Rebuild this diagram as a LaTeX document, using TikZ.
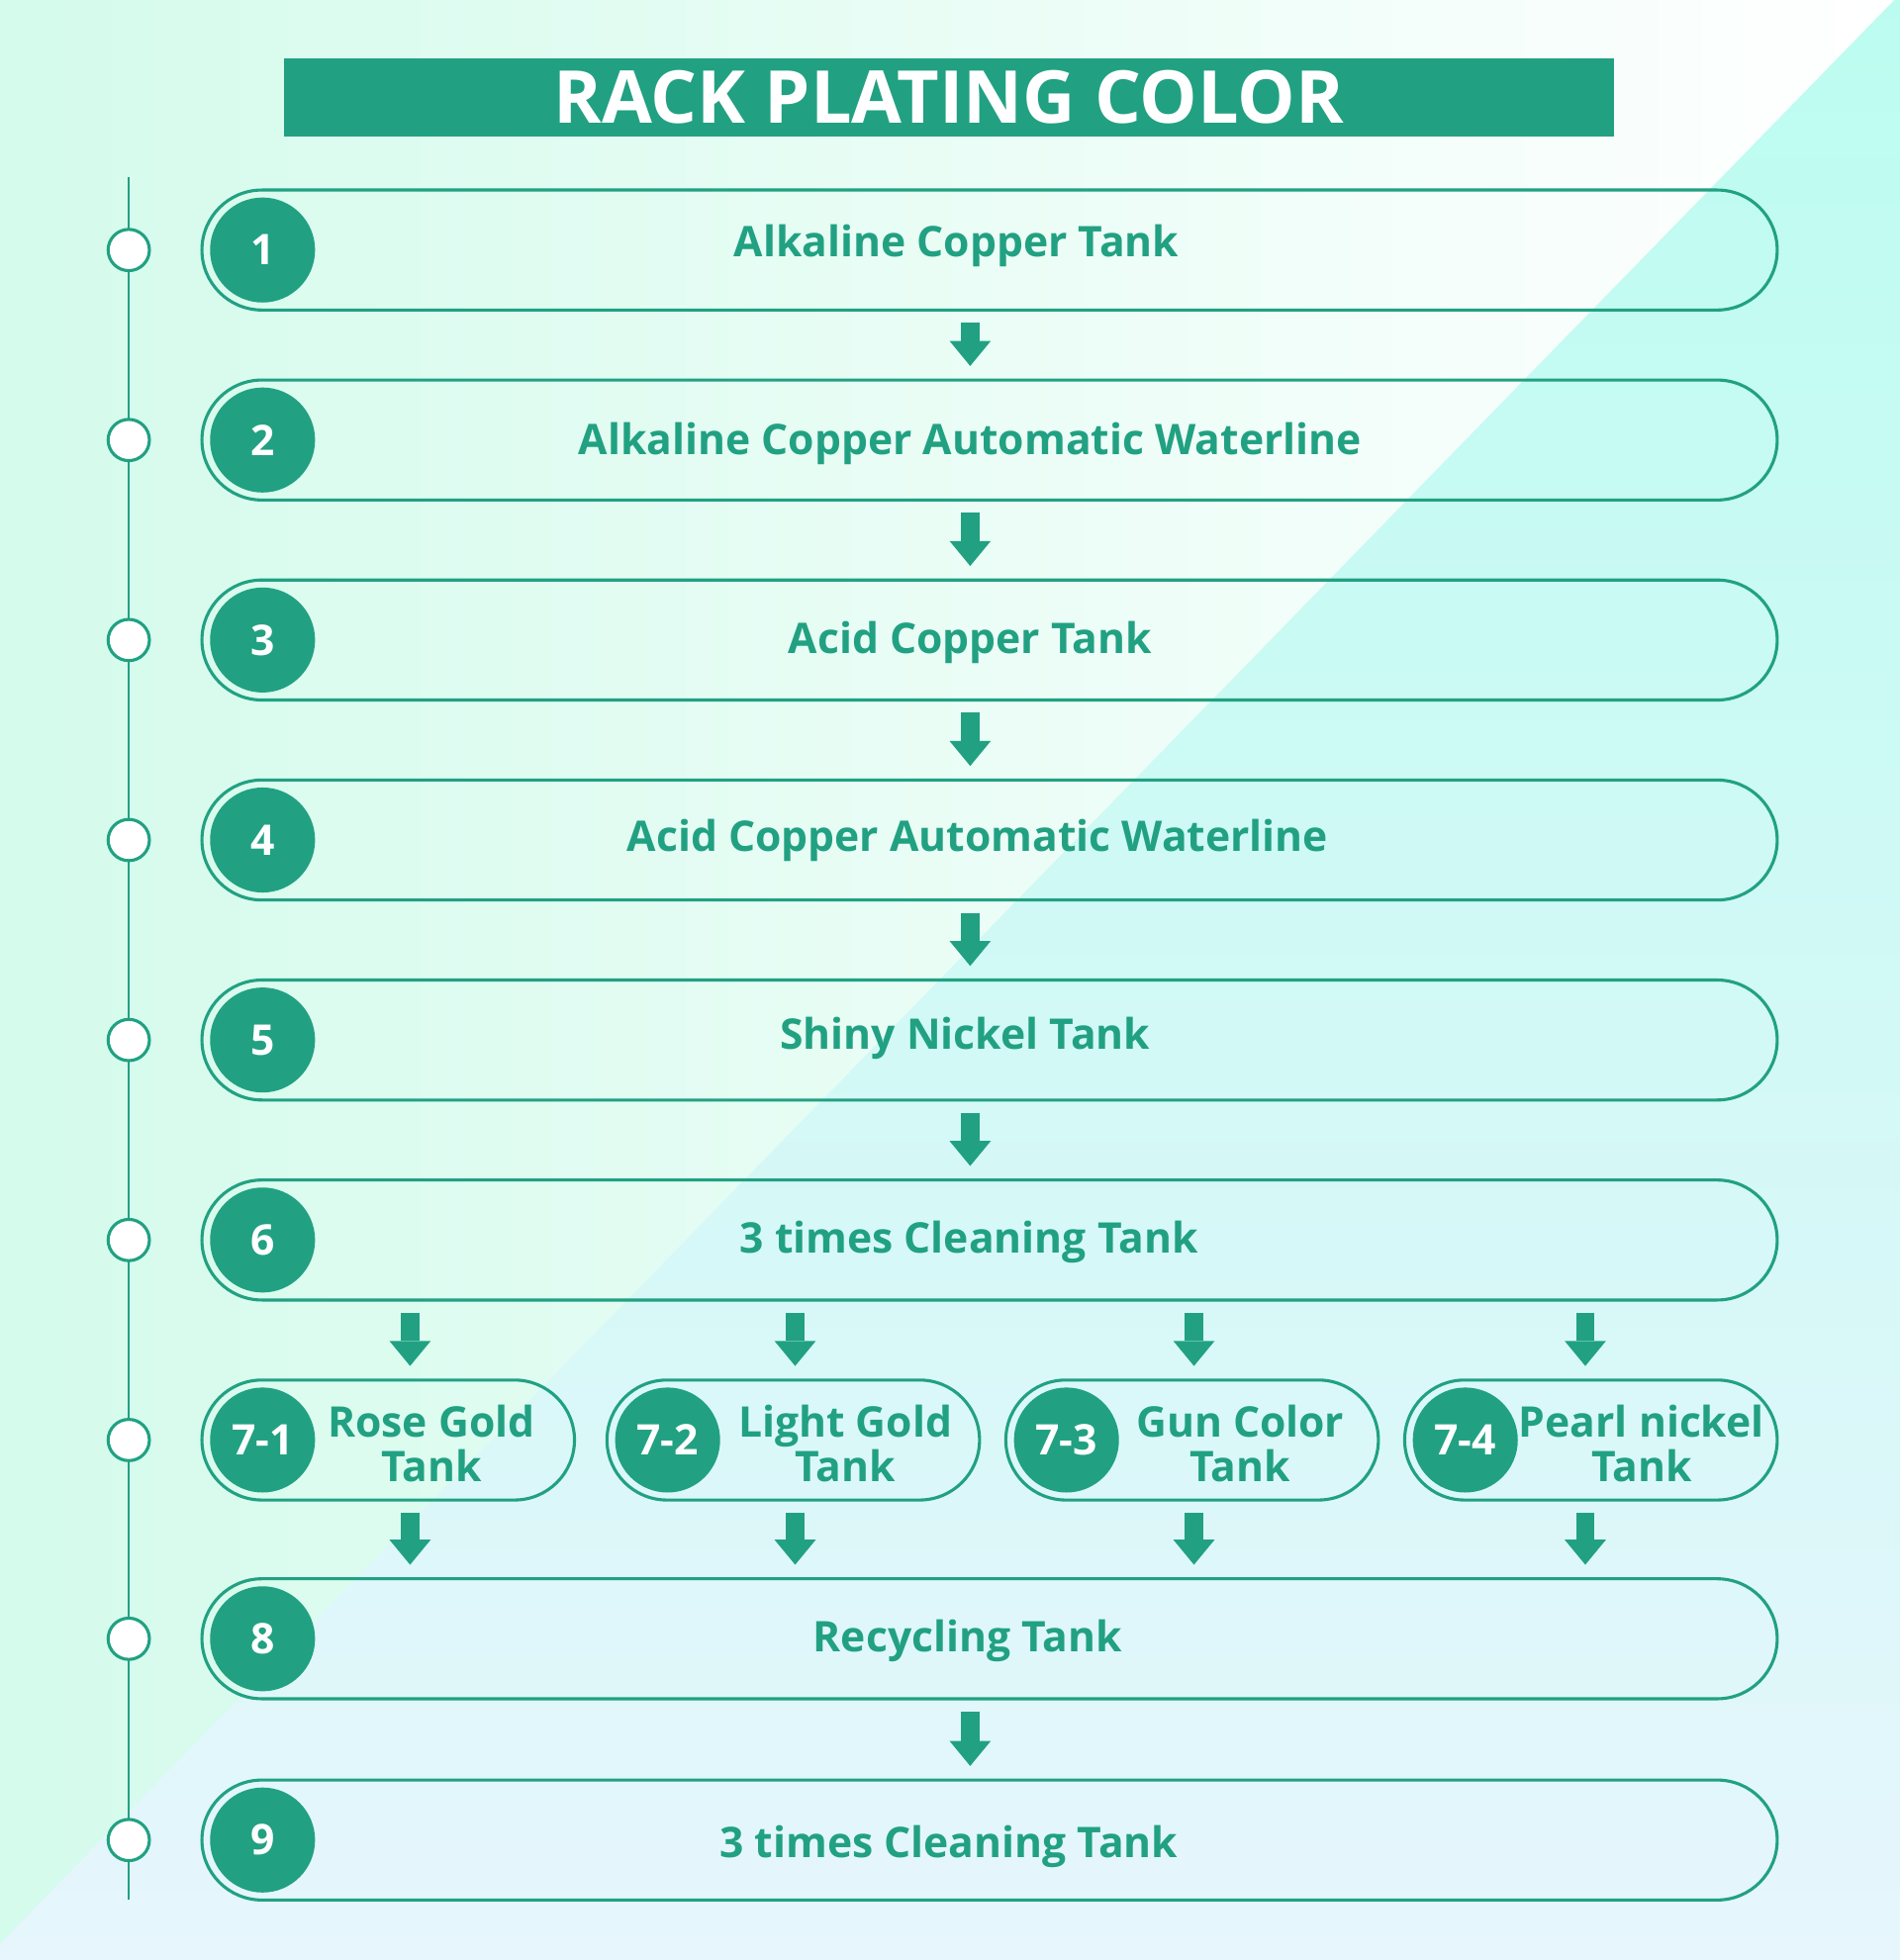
\documentclass[tikz,border=0pt]{standalone}
\usepackage{fontspec}
\setmainfont{Open Sans}
\usetikzlibrary{shapes.misc,arrows.meta}
\definecolor{plategreen}{HTML}{21A182}
\definecolor{mintbg}{HTML}{D4FBEC}
\definecolor{cyantop}{HTML}{BCFCF0}
\definecolor{cyanbot}{HTML}{E6F6FC}
\tikzset{
  tank/.style={rounded rectangle,draw=plategreen,line width=0.7pt,minimum height=9.6mm,inner sep=0pt},
  bigtank/.style={tank,minimum width=126mm},
  smalltank/.style={tank,minimum width=29.8mm},
  badge/.style={circle,fill=plategreen,minimum size=8.4mm,inner sep=0pt,text=white,font=\bfseries\fontsize{9.6}{10}\selectfont},
  tanklabel/.style={text=plategreen,align=center,font=\bfseries\fontsize{9.6}{10.2}\selectfont},
  railstop/.style={circle,draw=plategreen,fill=white,line width=0.7pt,minimum size=3.3mm,inner sep=0pt},
  flow/.style={draw=plategreen,line width=1.5mm,shorten <=0.9mm,shorten >=1mm,-{Triangle[width=3.3mm,length=2mm,line width=0pt,fill=plategreen]}},
}

\begin{document}
\begin{tikzpicture}[x=0.1mm,y=-0.1mm]
      \useasboundingbox (0,0) rectangle (1520,1568);
      \shade[left color=mintbg,right color=white] (0,0) rectangle (1520,1568);
      \shade[top color=cyantop,bottom color=cyanbot] (1520,-5) -- (1520,1568) -- (0,1568) -- (0,1555) -- cycle;

      \node[fill=plategreen,minimum width=106.4mm,minimum height=6.2mm,inner sep=0pt,text=white,
            font=\bfseries\fontsize{16.6}{18}\selectfont] (title) at (759,78) {RACK PLATING COLOR};

      % time line on the left
      \coordinate (railtop) at (103,142);
      \coordinate (railbot) at (103,1520);
      \draw[plategreen,line width=0.55pt] (railtop) -- (railbot);
      \node[railstop] (d1) at (103,200) {};
      \node[railstop] (d2) at (103,352) {};
      \node[railstop] (d3) at (103,512) {};
      \node[railstop] (d4) at (103,672) {};
      \node[railstop] (d5) at (103,832) {};
      \node[railstop] (d6) at (103,992) {};
      \node[railstop] (d7) at (103,1152) {};
      \node[railstop] (d8) at (103,1311) {};
      \node[railstop] (d9) at (103,1472) {};

      \node[bigtank] (t1) at (791.5,200) {};
      \node[badge] (n1) at (210,200) {1};
      \node[tanklabel] (l1) at (765,197) {Alkaline Copper Tank};

      \node[bigtank] (t2) at (791.5,352) {};
      \node[badge] (n2) at (210,352) {2};
      \node[tanklabel] (l2) at (776,355) {Alkaline Copper Automatic Waterline};

      \node[bigtank] (t3) at (791.5,512) {};
      \node[badge] (n3) at (210,512) {3};
      \node[tanklabel] (l3) at (776,514) {Acid Copper Tank};

      \node[bigtank] (t4) at (791.5,672) {};
      \node[badge] (n4) at (210,672) {4};
      \node[tanklabel] (l4) at (782,672) {Acid Copper Automatic Waterline};

      \node[bigtank] (t5) at (791.5,832) {};
      \node[badge] (n5) at (210,832) {5};
      \node[tanklabel] (l5) at (772,831) {Shiny Nickel Tank};

      \node[bigtank] (t6) at (791.5,992) {};
      \node[badge] (n6) at (210,992) {6};
      \node[tanklabel] (l6) at (775,994) {3 times Cleaning Tank};

      \node[smalltank] (s1) at (310.5,1152) {};
      \node[badge] (m1) at (210,1152) {7-1};
      \node[tanklabel] (k1) at (345,1155) {Rose Gold\\Tank};

      \node[smalltank] (s2) at (634.5,1152) {};
      \node[badge] (m2) at (534,1152) {7-2};
      \node[tanklabel] (k2) at (676,1155) {Light Gold\\Tank};

      \node[smalltank] (s3) at (953.5,1152) {};
      \node[badge] (m3) at (853,1152) {7-3};
      \node[tanklabel] (k3) at (992,1155) {Gun Color\\Tank};

      \node[smalltank] (s4) at (1272.5,1152) {};
      \node[badge] (m4) at (1172,1152) {7-4};
      \node[tanklabel] (k4) at (1313,1155) {Pearl nickel\\Tank};

      \node[bigtank] (t8) at (791.5,1311) {};
      \node[badge] (n8) at (210,1311) {8};
      \node[tanklabel] (l8) at (774,1313) {Recycling Tank};

      \node[bigtank] (t9) at (791.5,1472) {};
      \node[badge] (n9) at (210,1472) {9};
      \node[tanklabel] (l9) at (759,1477) {3 times Cleaning Tank};

      \coordinate (mid) at (776,0);
      \coordinate (c1) at (328,0);
      \coordinate (c2) at (636,0);
      \coordinate (c3) at (955,0);
      \coordinate (c4) at (1268,0);

      \draw[flow] (t1.south -| mid) -- (t2.north -| mid);
      \draw[flow] (t2.south -| mid) -- (t3.north -| mid);
      \draw[flow] (t3.south -| mid) -- (t4.north -| mid);
      \draw[flow] (t4.south -| mid) -- (t5.north -| mid);
      \draw[flow] (t5.south -| mid) -- (t6.north -| mid);

      \draw[flow] (t6.south -| c1) -- (s1.north -| c1);
      \draw[flow] (t6.south -| c2) -- (s2.north -| c2);
      \draw[flow] (t6.south -| c3) -- (s3.north -| c3);
      \draw[flow] (t6.south -| c4) -- (s4.north -| c4);

      \draw[flow] (s1.south -| c1) -- (t8.north -| c1);
      \draw[flow] (s2.south -| c2) -- (t8.north -| c2);
      \draw[flow] (s3.south -| c3) -- (t8.north -| c3);
      \draw[flow] (s4.south -| c4) -- (t8.north -| c4);

      \draw[flow] (t8.south -| mid) -- (t9.north -| mid);
\end{tikzpicture}
\end{document}
